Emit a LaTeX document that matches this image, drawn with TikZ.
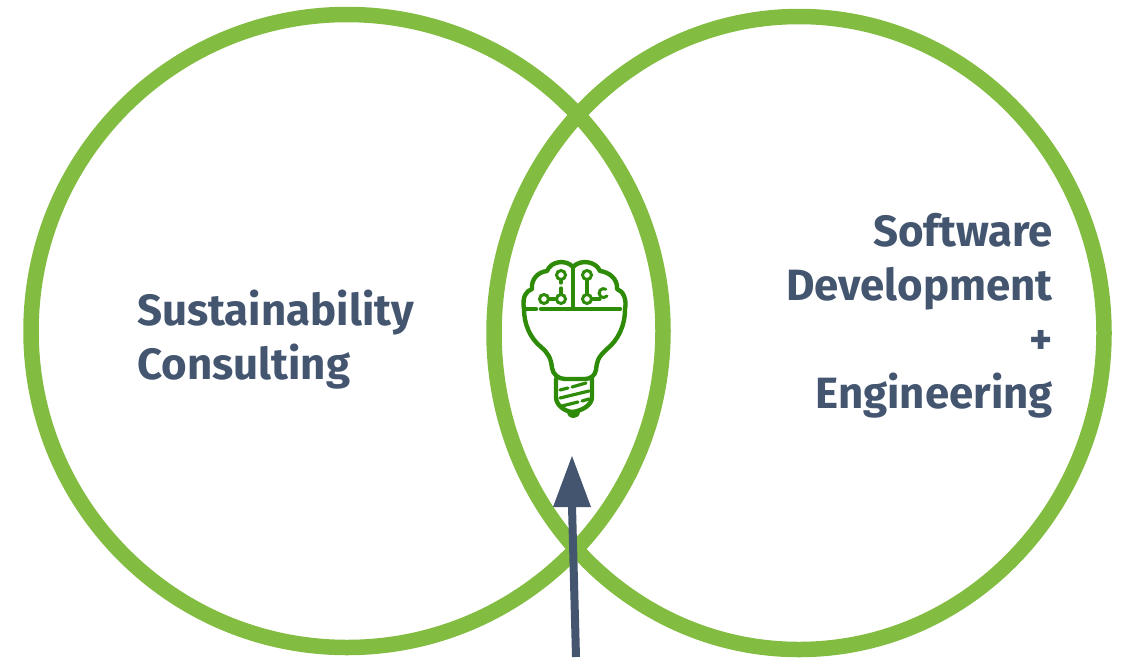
\documentclass[tikz,border=0pt]{standalone}
\usepackage{fontspec}
\setmainfont{Fira Sans}
\definecolor{ring}{HTML}{82BC41}
\definecolor{navy}{HTML}{43556F}
\definecolor{bulb}{HTML}{2E8B08}
\tikzset{
  ringline/.style={draw=ring,line width=15.5pt},
  lbl/.style={text=navy,font=\bfseries\fontsize{43.8}{54}\selectfont,inner sep=0pt},
  bulbline/.style={draw=bulb,line width=4.4pt,line cap=round,line join=round},
  thin bulb/.style={draw=bulb,line width=3.2pt,line cap=round},
}
\begin{document}
\begin{tikzpicture}[x=1pt,y=-1pt]
\useasboundingbox (0,0) rectangle (1122,657);
\coordinate (cl) at (347,331);
\coordinate (cr) at (799,333);
\draw[ringline] (cl) ellipse [x radius=316,y radius=316.5];
\draw[ringline] (cr) ellipse [x radius=305,y radius=316.5];
\node[lbl,align=left,anchor=west] (a) at (137,340) {Sustainability\\Consulting};
\node[lbl,align=right,anchor=east] (b) at (1053,316) {Software\\Development\\+\\Engineering};
% bulb
\draw[bulbline] (524,309) .. controls (522,297) and (526,291) .. (532,289)
  .. controls (531,279) and (538,272) .. (547,271)
  .. controls (551,261) and (566,259) .. (573,267)
  .. controls (580,259) and (596,261) .. (600,271)
  .. controls (609,272) and (618,279) .. (617,289)
  .. controls (623,291) and (627,299) .. (625,309)
  .. controls (625,326) and (618,340) .. (607,349)
  .. controls (597,358) and (597,362) .. (596,370)
  .. controls (595,376) and (590,379) .. (585,379)
  -- (565,379)
  .. controls (558,379) and (553,374) .. (552,368)
  .. controls (551,358) and (548,353) .. (541,347)
  .. controls (530,338) and (524,324) .. (524,309) -- cycle;
\draw[bulbline] (541,309) -- (620,309) (526,309) -- (536,309);
\draw[bulbline] (573,267) -- (573,308);
\draw[bulbline] (556,379) -- (556,397) .. controls (556,405) and (564,411) .. (572,412)
  .. controls (582,411) and (592,405) .. (592,397) -- (592,379);
\fill[bulb] (567,411) -- (580,411) .. controls (580,416) and (577,418) .. (574,418) .. controls (570,418) and (567,416) .. (567,411) -- cycle;
\draw[thin bulb] (560,390) -- (568,388) (572,387) -- (586,383);
\draw[thin bulb] (560,398) -- (589,391);
\draw[thin bulb] (562,406) -- (578,402) (582,401) -- (589,399);
\foreach \p in {(561,275),(587,275),(544,299),(561,299),(587,299)} \draw[draw=bulb,line width=3pt] \p circle (4.5);
\draw[thin bulb] (561,280) -- (561,283) (561,288) -- (561,294);
\draw[thin bulb] (549,299) -- (556,299);
\draw[thin bulb] (587,280) -- (587,294);
\draw[thin bulb] (592,299) -- (600,299);
\draw[draw=bulb,line width=3pt,line cap=round] (607,296) arc (40:300:4.5);
% arrow
\coordinate (t) at (576,657);
\coordinate (h) at (572,506);
\coordinate (p) at (572,456);
\draw[draw=navy,line width=8pt] (t) -- (h);
\fill[navy] (p) -- (591,507) -- (553,507) -- cycle;
\end{tikzpicture}
\end{document}
